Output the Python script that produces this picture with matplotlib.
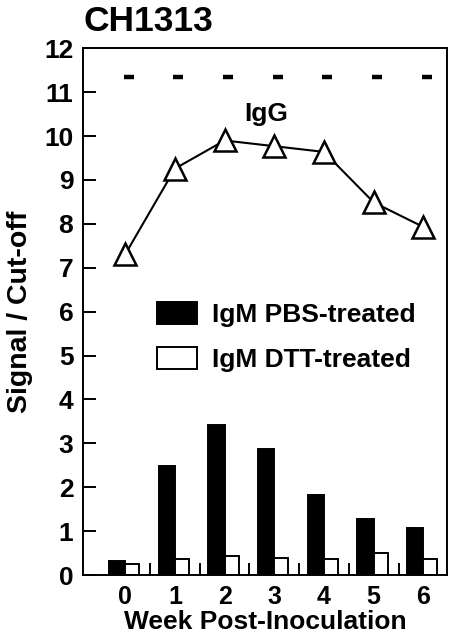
import matplotlib
matplotlib.use('Agg')
import matplotlib.pyplot as plt
from matplotlib.patches import Patch

weeks = [0, 1, 2, 3, 4, 5, 6]
igm_pbs = [0.31, 2.48, 3.43, 2.88, 1.82, 1.27, 1.08]
igm_dtt = [0.25, 0.36, 0.44, 0.39, 0.37, 0.51, 0.36]
igg = [7.31, 9.26, 9.90, 9.77, 9.64, 8.49, 7.93]
dash_level = [11.35, 11.35, 11.35, 11.35, 11.35, 11.35, 11.35]
group_ticks = [0.5, 1.5, 2.5, 3.5, 4.5, 5.5]

plt.rcParams['font.family'] = ['Liberation Sans', 'DejaVu Sans']
plt.rcParams['font.weight'] = 'bold'

fig = plt.figure(figsize=(4.54, 6.44), dpi=100)
ax = fig.add_axes([0.183, 0.107, 0.802, 0.818])

# black bar sits left of the week, open bar right of it
ax.bar(weeks, igm_pbs, width=-0.33, align='edge', color='black',
       edgecolor='black', linewidth=1.4)
ax.bar(weeks, igm_dtt, width=0.28, align='edge', color='white',
       edgecolor='black', linewidth=1.4)

ax.plot(weeks, igg, color='black', linewidth=1.5, marker='^', markersize=15.5,
        markerfacecolor='white', markeredgecolor='black', markeredgewidth=1.8,
        zorder=3)

ax.plot([w + 0.07 for w in weeks], dash_level, linestyle='none', marker='_',
        markersize=7, markeredgewidth=3.2, color='black')

ax.text(2.84, 10.5, 'IgG', fontsize=19, fontweight='bold', ha='center',
        va='center')

ax.set_xlim(-0.85, 6.48)
ax.set_ylim(0, 12)
ax.set_yticks(range(0, 13))
ax.set_xticks(weeks)
ax.set_xticks(group_ticks, minor=True)
ax.tick_params(axis='y', direction='in', length=9.5, width=1.4,
               labelsize=19, pad=7)
ax.tick_params(axis='x', which='major', length=0, labelsize=18, pad=7)
ax.tick_params(axis='x', which='minor', direction='in', length=8.5, width=1.4)
for s in ax.spines.values():
    s.set_linewidth(1.4)

ax.set_xlabel('Week Post-Inoculation', fontsize=19, fontweight='bold',
              labelpad=1)
ax.set_ylabel('Signal / Cut-off', fontsize=20.5, fontweight='bold')
ax.yaxis.set_label_coords(-0.137, 0.5)

handles = [Patch(facecolor='black', edgecolor='black', linewidth=1.4),
           Patch(facecolor='white', edgecolor='black', linewidth=1.4)]
ax.legend(handles, ['IgM PBS-treated', 'IgM DTT-treated'], loc='upper left',
          bbox_to_anchor=(0.203, 0.518), frameon=False, fontsize=19,
          handlelength=1.52, handleheight=0.87, handletextpad=0.57,
          labelspacing=0.77, borderpad=0, borderaxespad=0)

fig.text(0.183, 0.967, 'CH1313', fontsize=25.5, fontweight='bold',
         ha='left', va='center')

fig.savefig('out.png', dpi=100)
